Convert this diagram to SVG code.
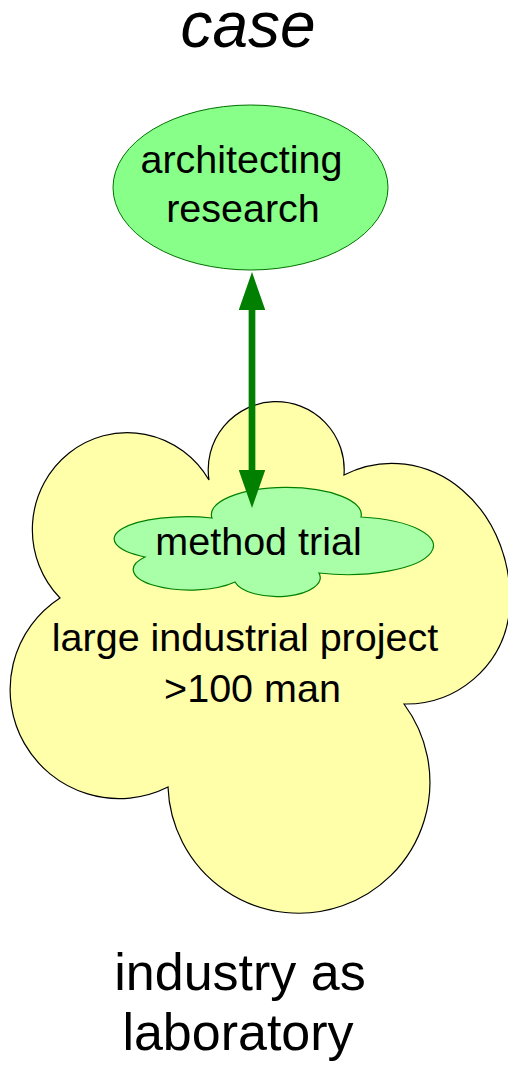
<svg xmlns="http://www.w3.org/2000/svg" width="508" height="1073" viewBox="0 0 508 1073">
<style>
  text { font-family: "Liberation Sans", Arial, sans-serif; fill: #000; text-anchor: middle; }
  .lbl { font-size: 39.5px; }
  .big { font-size: 52px; }
  .title { font-size: 64px; font-style: italic; }
  .cloud-big { fill: #ffffaa; stroke: #000; stroke-width: 1.2; }
  .cloud-small { fill: #a8ffa8; stroke: #008000; stroke-width: 1.2; }
  .oval { fill: #88ff88; stroke: #007000; stroke-width: 1; }
  .conn { stroke: #007f00; stroke-width: 6.7; fill: none; }
</style>
<defs>
  <marker id="head" markerUnits="userSpaceOnUse" markerWidth="38" markerHeight="26.6" viewBox="0 0 38 26.6" refX="0" refY="13.3" orient="auto-start-reverse">
    <path d="M0,0 L38,13.3 L0,26.6 Z" fill="#007f00"/>
  </marker>
</defs>
<rect width="508" height="1073" fill="#fff"/>
<g id="title">
  <text class="title" x="248" y="47">case</text>
</g>
<g id="industry-cloud">
  <path class="cloud-big" d="M209,480 A68,68 0 1 1 344,475 A118,135 0 0 1 509,615 A104,104 0 0 1 404,704 A131,131 0 1 1 168,787 A109,109 0 0 1 60,598 A95,97 0 1 1 209,480 Z"/>
  <text class="lbl" x="245" y="651">large industrial project</text>
  <text class="lbl" x="252.5" y="702">&gt;100 man</text>
</g>
<g id="method-trial">
  <path class="cloud-small" d="M212,518 A75,27 0 1 1 361,517 A86,29 0 1 1 319,573 A43,19 0 0 1 235,582 A47,17 0 0 1 145,557 A73,22.2 0 0 1 212,518 Z"/>
  <text class="lbl" x="258.5" y="555">method trial</text>
</g>
<g id="architecting-research">
  <ellipse class="oval" cx="250.5" cy="187.5" rx="137.5" ry="82.5"/>
  <text class="lbl" x="241.5" y="173">architecting</text>
  <text class="lbl" x="243" y="222">research</text>
</g>
<g id="connectors">
  <line class="conn" x1="252" y1="310" x2="252" y2="470" marker-start="url(#head)" marker-end="url(#head)"/>
</g>
<g id="caption">
  <text class="big" x="240" y="990">industry as</text>
  <text class="big" x="238" y="1050">laboratory</text>
</g>
</svg>
